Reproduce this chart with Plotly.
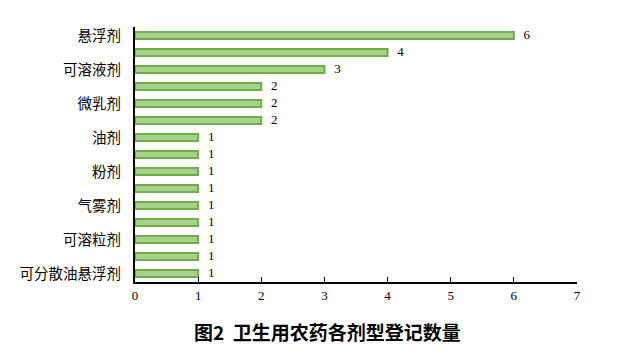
import plotly.graph_objects as go

categories = ["悬浮剂", "水乳剂", "可溶液剂", "微囊悬浮剂", "微乳剂", "乳油", "油剂", "颗粒剂",
              "粉剂", "饵剂", "气雾剂", "热雾剂", "可溶粒剂", "可湿性粉剂", "可分散油悬浮剂"]
values = [6, 4, 3, 2, 2, 2, 1, 1, 1, 1, 1, 1, 1, 1, 1]
shown_labels = categories[::2]
x_ticks = [0, 1, 2, 3, 4, 5, 6, 7]
title_text = "图2  卫生用农药各剂型登记数量"

fig = go.Figure()
fig.add_trace(go.Bar(
    y=categories, x=values, orientation="h",
    marker=dict(color="#A9D18E", line=dict(color="#70AD47", width=2)),
    width=0.42, hoverinfo="skip",
))
fig.add_trace(go.Scatter(
    y=categories, x=values, mode="markers+text",
    marker=dict(size=14, opacity=0),
    text=[str(v) for v in values], textposition="middle right",
    textfont=dict(family="Liberation Serif", size=13, color="black"),
    cliponaxis=False, hoverinfo="skip",
))

fig.update_layout(
    width=635, height=357,
    margin=dict(l=135, r=58, t=27, b=75, autoexpand=False),
    plot_bgcolor="white", paper_bgcolor="white",
    showlegend=False,
    bargap=0.58,
    xaxis=dict(range=[0, 7], tickvals=x_ticks, ticks="inside", ticklen=5, tickcolor="black",
               showline=True, linecolor="black", linewidth=2, showgrid=False, zeroline=False,
               automargin=False,
               tickfont=dict(family="Liberation Serif", size=13, color="black")),
    yaxis=dict(categoryorder="array", categoryarray=categories[::-1], autorange=False,
               range=[-0.5, len(categories) - 0.5],
               tickvals=shown_labels, ticktext=shown_labels, automargin=False,
               showline=True, linecolor="black", linewidth=2, showgrid=False, ticks="",
               ticklabelstandoff=9,
               tickfont=dict(family="Noto Sans CJK SC", size=14.5, color="black")),
    annotations=[dict(text="<b>" + title_text + "</b>", xref="paper", yref="paper",
                      x=0.435, y=-0.135, yanchor="top", xanchor="center", showarrow=False,
                      font=dict(family="Noto Sans CJK SC", size=19, color="black"))],
)

fig.write_html("out.html", config={"displayModeBar": False},
               post_script="document.body.style.margin='0';")
